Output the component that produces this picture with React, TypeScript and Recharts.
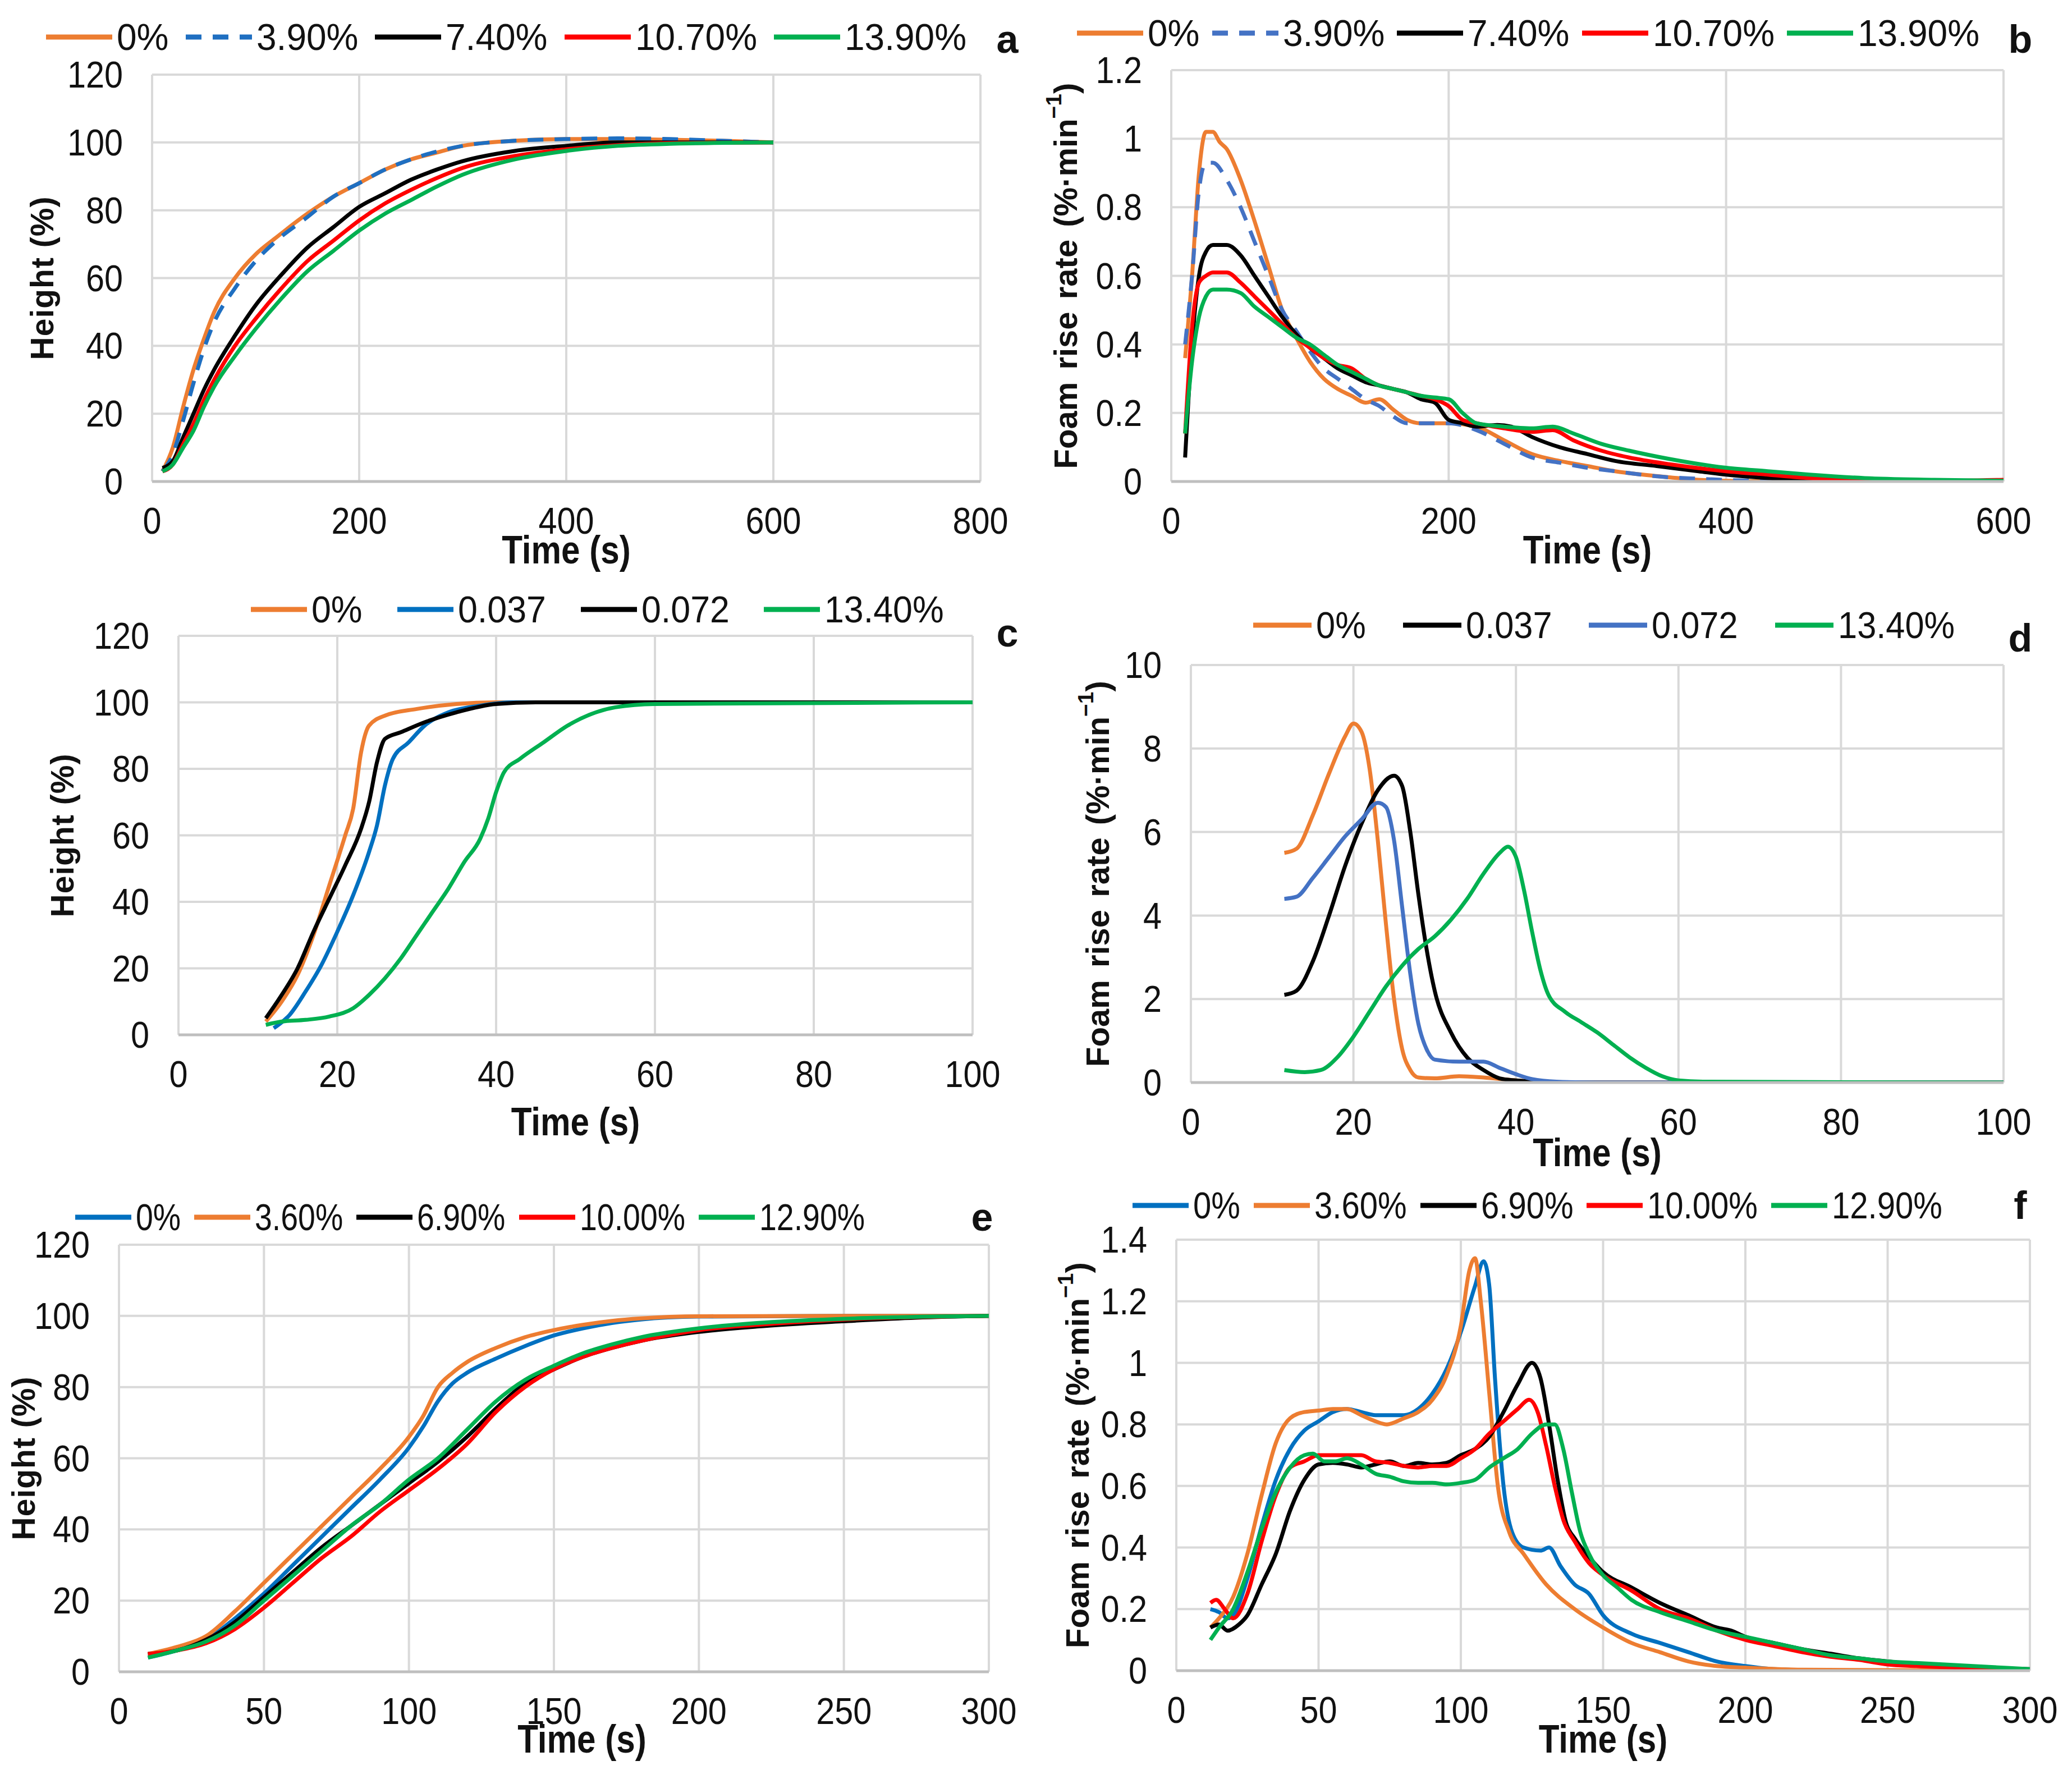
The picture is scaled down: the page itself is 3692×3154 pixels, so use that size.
import React from "react";
import { LineChart, Line, XAxis, YAxis, CartesianGrid, Legend } from "recharts";

const FONT = "'Liberation Sans', Arial, sans-serif";
const TICK_SQUEEZE = 0.9; // the source figure's text is horizontally condensed

const ORANGE = "#ED7D31";
const BLUE = "#0070C0";
const BLUE_LIGHT = "#4472C4";
const BLACK = "#000000";
const RED = "#FF0000";
const GREEN = "#00B050";

// ---- panel a : height vs time ----
const a0 = [[10,3],[20,10],[30,22],[40,33],[50,42],[60,50],[80,60],[100,67],[120,72],[150,79],[175,84],[200,88],[225,92],[250,95],[275,97],[300,99],[350,100.5],[400,101],[450,101],[500,100.8],[550,100.5],[600,100]];
const a39 = [[10,3],[20,8],[30,18],[40,29],[50,39],[60,47],[80,57],[100,65],[120,71],[150,78],[175,84],[200,88],[225,92],[250,95],[300,99],[350,100.5],[400,101],[450,101.2],[500,101],[550,100.5],[600,100]];
const a74 = [[10,4],[20,6],[30,13],[40,20],[50,27],[60,33],[80,43],[100,52],[125,61],[150,69],[175,75],[200,81],[225,85],[250,89],[275,92],[300,94.5],[350,97.5],[400,99],[450,100],[500,100],[600,100]];
const a107 = [[10,3],[20,5],[30,11],[40,17],[50,24],[60,30],[80,40],[100,48],[125,57],[150,65],[175,71],[200,77],[225,82],[250,86],[275,89.5],[300,92.5],[350,96],[400,98],[450,99.2],[500,99.8],[600,100]];
const a139 = [[10,3],[20,5],[30,10],[40,15],[50,22],[60,28],[80,37],[100,45],[125,54],[150,62],[175,68],[200,74],[225,79],[250,83],[275,87],[300,90.5],[350,95],[400,97.5],[450,99],[500,99.6],[600,100]];

// ---- panel b : rise rate vs time ----
const b0 = [[10,0.36],[15,0.6],[20,0.9],[25,1.02],[30,1.02],[35,0.99],[40,0.97],[50,0.88],[60,0.76],[70,0.63],[80,0.5],[90,0.42],[100,0.35],[110,0.3],[120,0.27],[130,0.25],[140,0.23],[150,0.24],[160,0.21],[170,0.18],[180,0.17],[200,0.17],[220,0.16],[240,0.12],[260,0.08],[280,0.06],[300,0.045],[320,0.03],[340,0.02],[360,0.012],[380,0.005],[400,0.002],[450,0],[600,0]];
const b39 = [[10,0.4],[15,0.6],[20,0.85],[25,0.93],[30,0.93],[40,0.88],[50,0.8],[60,0.7],[70,0.6],[80,0.5],[90,0.44],[100,0.38],[110,0.33],[120,0.3],[130,0.27],[140,0.24],[150,0.22],[160,0.19],[170,0.17],[180,0.17],[200,0.17],[220,0.15],[240,0.11],[260,0.07],[280,0.055],[300,0.04],[320,0.03],[350,0.015],[380,0.008],[420,0.002],[450,0],[600,0]];
const b74 = [[10,0.07],[15,0.4],[20,0.6],[25,0.67],[30,0.69],[40,0.69],[50,0.66],[60,0.6],[70,0.54],[80,0.48],[90,0.43],[100,0.39],[110,0.36],[120,0.33],[130,0.31],[140,0.29],[150,0.28],[160,0.27],[170,0.26],[180,0.24],[190,0.23],[200,0.18],[210,0.17],[220,0.16],[235,0.165],[245,0.16],[260,0.13],[280,0.1],[300,0.08],[320,0.06],[350,0.045],[380,0.03],[400,0.02],[430,0.01],[460,0.005],[500,0.002],[600,0]];
const b107 = [[10,0.14],[15,0.45],[20,0.58],[25,0.6],[30,0.61],[40,0.61],[50,0.58],[60,0.54],[70,0.5],[80,0.46],[90,0.42],[100,0.39],[110,0.36],[120,0.34],[130,0.33],[140,0.3],[150,0.28],[160,0.27],[170,0.26],[180,0.25],[190,0.24],[200,0.22],[210,0.18],[220,0.17],[240,0.155],[260,0.145],[275,0.15],[290,0.12],[310,0.09],[330,0.07],[360,0.05],[400,0.03],[430,0.02],[460,0.01],[500,0.005],[550,0.002],[600,0.005]];
const b139 = [[10,0.14],[15,0.35],[20,0.48],[25,0.54],[30,0.56],[40,0.56],[50,0.55],[60,0.51],[70,0.48],[80,0.45],[90,0.42],[100,0.4],[110,0.37],[120,0.34],[130,0.32],[140,0.3],[150,0.28],[160,0.27],[170,0.26],[180,0.25],[190,0.245],[200,0.24],[210,0.2],[220,0.17],[240,0.16],[260,0.155],[275,0.16],[290,0.14],[310,0.11],[330,0.09],[360,0.065],[400,0.04],[430,0.03],[460,0.02],[500,0.01],[550,0.005],[600,0.002]];

// ---- panel c : height vs time ----
const c0 = [[11,4],[13,10],[15,18],[17,30],[19,45],[21,60],[22,68],[23,85],[24,93],[26,96],[30,98],[35,99.5],[40,100],[100,100]];
const c037 = [[12,2],[14,6],[16,13],[18,21],[20,31],[22,42],[24,55],[25,63],[26,75],[27,83],[29,88],[31,93],[34,97],[38,99],[42,100],[100,100]];
const c072 = [[11,5],[13,12],[15,20],[17,31],[19,41],[21,51],[23,62],[24,70],[25,82],[26,89],[28,91],[31,94],[35,97],[40,99.5],[45,100],[100,100]];
const c134 = [[11,3],[13,4],[16,4.5],[19,5.5],[22,8],[24,12],[26,17],[28,23],[30,30],[32,37],[34,44],[36,52],[38,59],[39,65],[40,73],[41,79],[43,83],[46,88],[49,93],[52,96.5],[55,98.5],[60,99.5],[100,100]];

// ---- panel d : rise rate vs time ----
const d0 = [[11.5,5.5],[13,5.6],[15,6.4],[17,7.4],[19,8.3],[20,8.6],[21,8.4],[22,7.5],[23,5.8],[24,3.8],[25,2],[26,0.8],[27,0.3],[28,0.12],[30,0.1],[33,0.15],[36,0.12],[40,0.05],[45,0],[100,0]];
const d037 = [[11.5,2.1],[13,2.2],[15,2.9],[17,4],[19,5.2],[21,6.2],[23,7],[25,7.35],[26,7.1],[27,6],[28,4.5],[29,3.2],[30,2.2],[32,1.2],[34,0.6],[36,0.3],[38,0.1],[40,0.05],[45,0],[100,0]];
const d072 = [[11.5,4.4],[13,4.45],[15,4.9],[17,5.4],[19,5.9],[21,6.3],[23,6.7],[24,6.6],[25,5.8],[26,4.2],[27,2.6],[28,1.4],[29,0.8],[30,0.55],[33,0.5],[36,0.5],[38,0.35],[40,0.2],[42,0.08],[45,0.02],[50,0],[100,0]];
const d134 = [[11.5,0.3],[14,0.25],[16,0.3],[18,0.6],[20,1.1],[22,1.7],[24,2.3],[26,2.8],[28,3.2],[30,3.5],[32,3.9],[34,4.4],[36,5],[38,5.5],[39,5.65],[40,5.4],[41,4.6],[42,3.6],[43,2.7],[44,2.1],[46,1.7],[48,1.45],[50,1.2],[52,0.9],[54,0.6],[56,0.35],[58,0.15],[60,0.05],[63,0.02],[100,0]];

// ---- panel e : height vs time ----
const e0 = [[10,4],[20,6],[30,9],[40,15],[50,22],[60,30],[70,38],[80,46],[90,54],[100,63],[105,69],[110,76],[115,81],[120,84],[130,88],[140,91.5],[150,94.5],[160,96.5],[170,98],[180,99],[200,99.8],[250,100],[300,100]];
const e36 = [[10,5],[20,7],[30,10],[40,17],[50,25],[60,33],[70,41],[80,49],[90,57],[100,66],[105,72],[110,80],[115,84],[120,87],[130,91],[140,94],[150,96],[160,97.5],[170,98.6],[180,99.3],[200,99.9],[250,100],[300,100]];
const e69 = [[10,5],[20,6],[30,9],[40,14],[50,21],[60,28],[70,35],[80,41],[90,47],[100,53],[110,59],[120,66],[130,74],[140,81],[150,85],[160,88.5],[170,91],[180,93],[200,95.5],[220,97],[250,98.5],[275,99.5],[300,100]];
const e100 = [[10,5],[20,6],[30,8],[40,12],[50,18],[60,25],[70,32],[80,38],[90,45],[100,51],[110,57],[120,64],[130,73],[140,80],[150,85],[160,88.5],[170,91],[180,93],[200,96],[220,97.5],[250,99],[300,100]];
const e129 = [[10,4],[20,6],[30,8.5],[40,13],[50,20],[60,27],[70,34],[80,41],[90,47],[100,54],[110,60],[120,68],[130,76],[140,82],[150,86],[160,89.5],[170,92],[180,94],[200,96.5],[220,98],[250,99.2],[300,100]];

// ---- panel f : rise rate vs time ----
const f0 = [[12,0.2],[15,0.19],[18,0.17],[20,0.18],[25,0.3],[30,0.47],[35,0.62],[40,0.72],[45,0.78],[50,0.81],[55,0.84],[60,0.85],[65,0.84],[70,0.83],[75,0.83],[80,0.83],[85,0.85],[90,0.9],[95,0.98],[100,1.1],[105,1.25],[108,1.33],[110,1.25],[112,0.95],[115,0.6],[118,0.45],[122,0.4],[128,0.39],[131,0.4],[135,0.34],[140,0.28],[145,0.25],[150,0.18],[160,0.12],[170,0.09],[180,0.06],[190,0.03],[200,0.015],[210,0.005],[230,0],[300,0]];
const f36 = [[12,0.14],[15,0.17],[20,0.24],[25,0.38],[30,0.57],[35,0.74],[40,0.82],[45,0.84],[50,0.845],[55,0.85],[60,0.85],[65,0.83],[70,0.81],[74,0.8],[80,0.82],[85,0.84],[90,0.88],[95,0.96],[100,1.12],[103,1.3],[105,1.34],[107,1.2],[110,0.9],[113,0.6],[117,0.45],[122,0.38],[130,0.28],[140,0.2],[150,0.14],[160,0.09],[170,0.06],[180,0.03],[190,0.015],[200,0.01],[220,0.003],[300,0]];
const f69 = [[12,0.14],[15,0.15],[18,0.13],[22,0.15],[25,0.18],[30,0.28],[35,0.38],[40,0.52],[45,0.62],[50,0.67],[55,0.675],[60,0.67],[65,0.66],[70,0.67],[75,0.68],[80,0.665],[85,0.675],[90,0.67],[95,0.675],[100,0.7],[105,0.72],[110,0.76],[115,0.84],[120,0.93],[125,1.0],[128,0.95],[131,0.8],[134,0.62],[137,0.48],[140,0.43],[145,0.37],[150,0.32],[160,0.27],[170,0.22],[180,0.18],[190,0.14],[195,0.13],[200,0.11],[210,0.09],[220,0.07],[230,0.055],[240,0.04],[250,0.03],[260,0.02],[280,0.01],[300,0.005]];
const f100 = [[12,0.22],[14,0.23],[17,0.2],[20,0.17],[25,0.25],[30,0.42],[35,0.57],[40,0.66],[45,0.68],[50,0.7],[55,0.7],[60,0.7],[65,0.7],[70,0.68],[75,0.675],[80,0.665],[85,0.66],[90,0.665],[95,0.665],[100,0.69],[105,0.72],[110,0.77],[115,0.81],[120,0.85],[124,0.88],[127,0.84],[130,0.73],[133,0.6],[136,0.49],[140,0.42],[145,0.35],[150,0.31],[160,0.26],[170,0.2],[180,0.17],[190,0.13],[200,0.1],[210,0.08],[220,0.06],[230,0.045],[240,0.035],[250,0.02],[260,0.015],[280,0.008],[300,0.003]];
const f129 = [[12,0.1],[15,0.14],[20,0.2],[25,0.32],[30,0.46],[35,0.58],[40,0.66],[45,0.7],[48,0.705],[52,0.68],[56,0.68],[60,0.69],[65,0.67],[70,0.64],[75,0.63],[80,0.615],[85,0.61],[90,0.61],[95,0.605],[100,0.61],[105,0.62],[110,0.66],[115,0.69],[120,0.72],[125,0.77],[130,0.8],[133,0.8],[136,0.72],[139,0.58],[142,0.45],[145,0.38],[150,0.31],[155,0.27],[160,0.23],[170,0.19],[180,0.16],[190,0.13],[200,0.11],[210,0.09],[220,0.07],[230,0.05],[240,0.04],[250,0.03],[260,0.025],[280,0.015],[300,0.005]];

// ticks
const ticksA = [0, 200, 400, 600, 800];
const ticksB = [0, 200, 400, 600];
const ticks100 = [0, 20, 40, 60, 80, 100];
const ticks300 = [0, 50, 100, 150, 200, 250, 300];
const heightTicks = [0, 20, 40, 60, 80, 100, 120];
const rateTicksB = [0, 0.2, 0.4, 0.6, 0.8, 1, 1.2];
const rateTicksD = [0, 2, 4, 6, 8, 10];
const rateTicksF = [0, 0.2, 0.4, 0.6, 0.8, 1, 1.2, 1.4];

const pts = (arr: number[][]) => arr.map(([t, v]) => ({ t, v }));

type Series = { name: string; color: string; data: number[][]; dash?: string };

type PanelCfg = {
  id: string;
  plotLeft: number;
  plotTop: number;
  plotW: number;
  plotH: number;
  xTicks: number[];
  yTicks: number[];
  rate: boolean;
  series: Series[];
  legendLeft: number;
  legendY: number;
  legendLine: number;
  legendGap: number;
  legendSqueeze: number;
  yTitleX: number;
  timeDy: number;
  timeDx: number;
  letterX: number;
  letterY: number;
};

const panels: PanelCfg[] = [
  {
    id: "a", plotLeft: 271, plotTop: 133, plotW: 1476, plotH: 725,
    xTicks: ticksA, yTicks: heightTicks, rate: false,
    series: [
      { name: "0%", color: ORANGE, data: a0 },
      { name: "3.90%", color: "#1F6FC1", data: a39, dash: "28 20" },
      { name: "7.40%", color: BLACK, data: a74 },
      { name: "10.70%", color: RED, data: a107 },
      { name: "13.90%", color: GREEN, data: a139 },
    ],
    legendLeft: 82, legendY: 66, legendLine: 118, legendGap: 30, legendSqueeze: 0.97,
    yTitleX: 75, timeDy: 122, timeDx: 0, letterX: 1795, letterY: 70,
  },
  {
    id: "b", plotLeft: 2087, plotTop: 125, plotW: 1483, plotH: 733,
    xTicks: ticksB, yTicks: rateTicksB, rate: true,
    series: [
      { name: "0%", color: ORANGE, data: b0 },
      { name: "3.90%", color: BLUE_LIGHT, data: b39, dash: "28 20" },
      { name: "7.40%", color: BLACK, data: b74 },
      { name: "10.70%", color: RED, data: b107 },
      { name: "13.90%", color: GREEN, data: b139 },
    ],
    legendLeft: 1919, legendY: 59, legendLine: 118, legendGap: 22, legendSqueeze: 0.97,
    yTitleX: 1898, timeDy: 122, timeDx: 0, letterX: 3600, letterY: 70,
  },
  {
    id: "c", plotLeft: 318, plotTop: 1133, plotW: 1415, plotH: 711,
    xTicks: ticks100, yTicks: heightTicks, rate: false,
    series: [
      { name: "0%", color: ORANGE, data: c0 },
      { name: "0.037", color: BLUE, data: c037 },
      { name: "0.072", color: BLACK, data: c072 },
      { name: "13.40%", color: GREEN, data: c134 },
    ],
    legendLeft: 447, legendY: 1086, legendLine: 100, legendGap: 62, legendSqueeze: 0.95,
    yTitleX: 111, timeDy: 155, timeDx: 0, letterX: 1795, letterY: 1128,
  },
  {
    id: "d", plotLeft: 2122, plotTop: 1185, plotW: 1448, plotH: 744,
    xTicks: ticks100, yTicks: rateTicksD, rate: true,
    series: [
      { name: "0%", color: ORANGE, data: d0 },
      { name: "0.037", color: BLACK, data: d037 },
      { name: "0.072", color: BLUE_LIGHT, data: d072 },
      { name: "13.40%", color: GREEN, data: d134 },
    ],
    legendLeft: 2233, legendY: 1114, legendLine: 104, legendGap: 66, legendSqueeze: 0.93,
    yTitleX: 1955, timeDy: 125, timeDx: 0, letterX: 3600, letterY: 1137,
  },
  {
    id: "e", plotLeft: 212, plotTop: 2218, plotW: 1550, plotH: 761,
    xTicks: ticks300, yTicks: heightTicks, rate: false,
    series: [
      { name: "0%", color: BLUE, data: e0 },
      { name: "3.60%", color: ORANGE, data: e36 },
      { name: "6.90%", color: BLACK, data: e69 },
      { name: "10.00%", color: RED, data: e100 },
      { name: "12.90%", color: GREEN, data: e129 },
    ],
    legendLeft: 134, legendY: 2169, legendLine: 100, legendGap: 24, legendSqueeze: 0.84,
    yTitleX: 42, timeDy: 120, timeDx: 50, letterX: 1750, letterY: 2169,
  },
  {
    id: "f", plotLeft: 2096, plotTop: 2209, plotW: 1521, plotH: 768,
    xTicks: ticks300, yTicks: rateTicksF, rate: true,
    series: [
      { name: "0%", color: BLUE, data: f0 },
      { name: "3.60%", color: ORANGE, data: f36 },
      { name: "6.90%", color: BLACK, data: f69 },
      { name: "10.00%", color: RED, data: f100 },
      { name: "12.90%", color: GREEN, data: f129 },
    ],
    legendLeft: 2018, legendY: 2148, legendLine: 100, legendGap: 24, legendSqueeze: 0.88,
    yTitleX: 1919, timeDy: 122, timeDx: 0, letterX: 3600, letterY: 2148,
  },
];

const YW = 300;
const TOP = 160;
const XH = 240;
const RIGHT = 80;
const TEXT_SIZE = 66;

const fmt = (v: number) => String(Math.round(v * 10) / 10);

let measureCtx: CanvasRenderingContext2D | null = null;
const textWidth = (s: string) => {
  if (!measureCtx) measureCtx = document.createElement("canvas").getContext("2d");
  if (!measureCtx) return s.length * TEXT_SIZE * 0.55;
  measureCtx.font = `${TEXT_SIZE}px ${FONT}`;
  return measureCtx.measureText(s).width;
};

const LegendRow = ({ cfg }: { cfg: PanelCfg }) => (
  <div
    style={{
      display: "flex",
      alignItems: "center",
      height: 80,
      fontFamily: FONT,
      fontSize: TEXT_SIZE,
      color: "#111",
      whiteSpace: "nowrap",
    }}
  >
    {cfg.series.map((it) => (
      <div key={it.name} style={{ display: "flex", alignItems: "center", marginRight: cfg.legendGap }}>
        <svg width={cfg.legendLine} height={20}>
          <line x1={0} y1={10} x2={cfg.legendLine} y2={10} stroke={it.color} strokeWidth={9} strokeDasharray={it.dash} />
        </svg>
        <span style={{ display: "inline-block", marginLeft: 8, width: textWidth(it.name) * cfg.legendSqueeze }}>
          <span style={{ display: "inline-block", transform: `scaleX(${cfg.legendSqueeze})`, transformOrigin: "0 50%" }}>
            {it.name}
          </span>
        </span>
      </div>
    ))}
  </div>
);

const Panel = ({ cfg }: { cfg: PanelCfg }) => {
  const left = cfg.plotLeft - YW;
  const top = cfg.plotTop - TOP;
  const width = YW + cfg.plotW + RIGHT;
  const height = TOP + cfg.plotH + XH;
  const xMax = cfg.xTicks[cfg.xTicks.length - 1];
  const yMax = cfg.yTicks[cfg.yTicks.length - 1];
  const titleX = cfg.yTitleX - left;
  const titleY = TOP + cfg.plotH / 2;

  return (
    <div style={{ position: "absolute", left, top, width, height }}>
      <LineChart width={width} height={height} margin={{ top: TOP, right: RIGHT, left: 0, bottom: 0 }}>
        <CartesianGrid stroke="#d9d9d9" strokeWidth={4} />
        <XAxis
          type="number"
          dataKey="t"
          domain={[0, xMax]}
          ticks={cfg.xTicks}
          allowDataOverflow
          height={XH}
          tickLine={false}
          tickSize={0}
          tickMargin={0}
          axisLine={{ stroke: "#bfbfbf", strokeWidth: 5 }}
          tick={(p: any) => (
            <g transform={`translate(${p.x},${p.y + 70}) scale(${TICK_SQUEEZE},1)`}>
              <text x={0} y={0} textAnchor="middle" dominantBaseline="central" fontFamily={FONT} fontSize={TEXT_SIZE} fill="#111">
                {p.payload.value}
              </text>
            </g>
          )}
          label={() => (
            <g transform={`translate(${YW + cfg.plotW / 2 + cfg.timeDx},${TOP + cfg.plotH + cfg.timeDy}) scale(0.86,1)`}>
              <text x={0} y={0} textAnchor="middle" dominantBaseline="central" fontFamily={FONT} fontWeight="bold" fontSize={70} fill="#111">
                Time (s)
              </text>
            </g>
          )}
        />
        <YAxis
          type="number"
          domain={[0, yMax]}
          ticks={cfg.yTicks}
          allowDataOverflow
          width={YW}
          tickLine={false}
          tickSize={0}
          tickMargin={0}
          axisLine={false}
          tick={(p: any) => (
            <g transform={`translate(${p.x - 52},${p.y}) scale(${TICK_SQUEEZE},1)`}>
              <text x={0} y={0} textAnchor="end" dominantBaseline="central" fontFamily={FONT} fontSize={TEXT_SIZE} fill="#111">
                {fmt(p.payload.value)}
              </text>
            </g>
          )}
          label={() =>
            cfg.rate ? (
              <text
                x={titleX}
                y={titleY}
                transform={`rotate(-90, ${titleX}, ${titleY})`}
                textAnchor="middle"
                dominantBaseline="central"
                fontFamily={FONT}
                fontWeight="bold"
                fontSize={58}
                wordSpacing={6}
                fill="#111"
              >
                Foam rise rate (%·min
                <tspan dy={-21} fontSize={39}>−1</tspan>
                <tspan dy={21}>)</tspan>
              </text>
            ) : (
              <text
                x={titleX}
                y={titleY}
                transform={`rotate(-90, ${titleX}, ${titleY})`}
                textAnchor="middle"
                dominantBaseline="central"
                fontFamily={FONT}
                fontWeight="bold"
                fontSize={57}
                letterSpacing={1}
                fill="#111"
              >
                Height (%)
              </text>
            )
          }
        />
        <Legend
          layout="horizontal"
          verticalAlign="middle"
          align="center"
          wrapperStyle={{ left: cfg.legendLeft - left, top: cfg.legendY - top - 40, width: "auto" }}
          content={() => <LegendRow cfg={cfg} />}
        />
        {cfg.series.map((s) => (
          <Line
            key={s.name}
            name={s.name}
            data={pts(s.data)}
            dataKey="v"
            type="monotone"
            stroke={s.color}
            strokeWidth={7}
            strokeDasharray={s.dash}
            dot={false}
            activeDot={false}
            isAnimationActive={false}
          />
        ))}
      </LineChart>
    </div>
  );
};

export default function App() {
  return (
    <div
      style={{
        position: "absolute",
        left: 0,
        top: 0,
        width: 3692,
        height: 3154,
        background: "#fff",
        overflow: "hidden",
      }}
    >
      {panels.map((p) => (
        <Panel key={p.id} cfg={p} />
      ))}
      {panels.map((p) => (
        <div
          key={"l" + p.id}
          style={{
            position: "absolute",
            left: p.letterX - 30,
            top: p.letterY - 40,
            width: 60,
            height: 80,
            lineHeight: "80px",
            textAlign: "center",
            fontFamily: FONT,
            fontWeight: "bold",
            fontSize: 70,
            color: "#111",
          }}
        >
          {p.id}
        </div>
      ))}
    </div>
  );
}
